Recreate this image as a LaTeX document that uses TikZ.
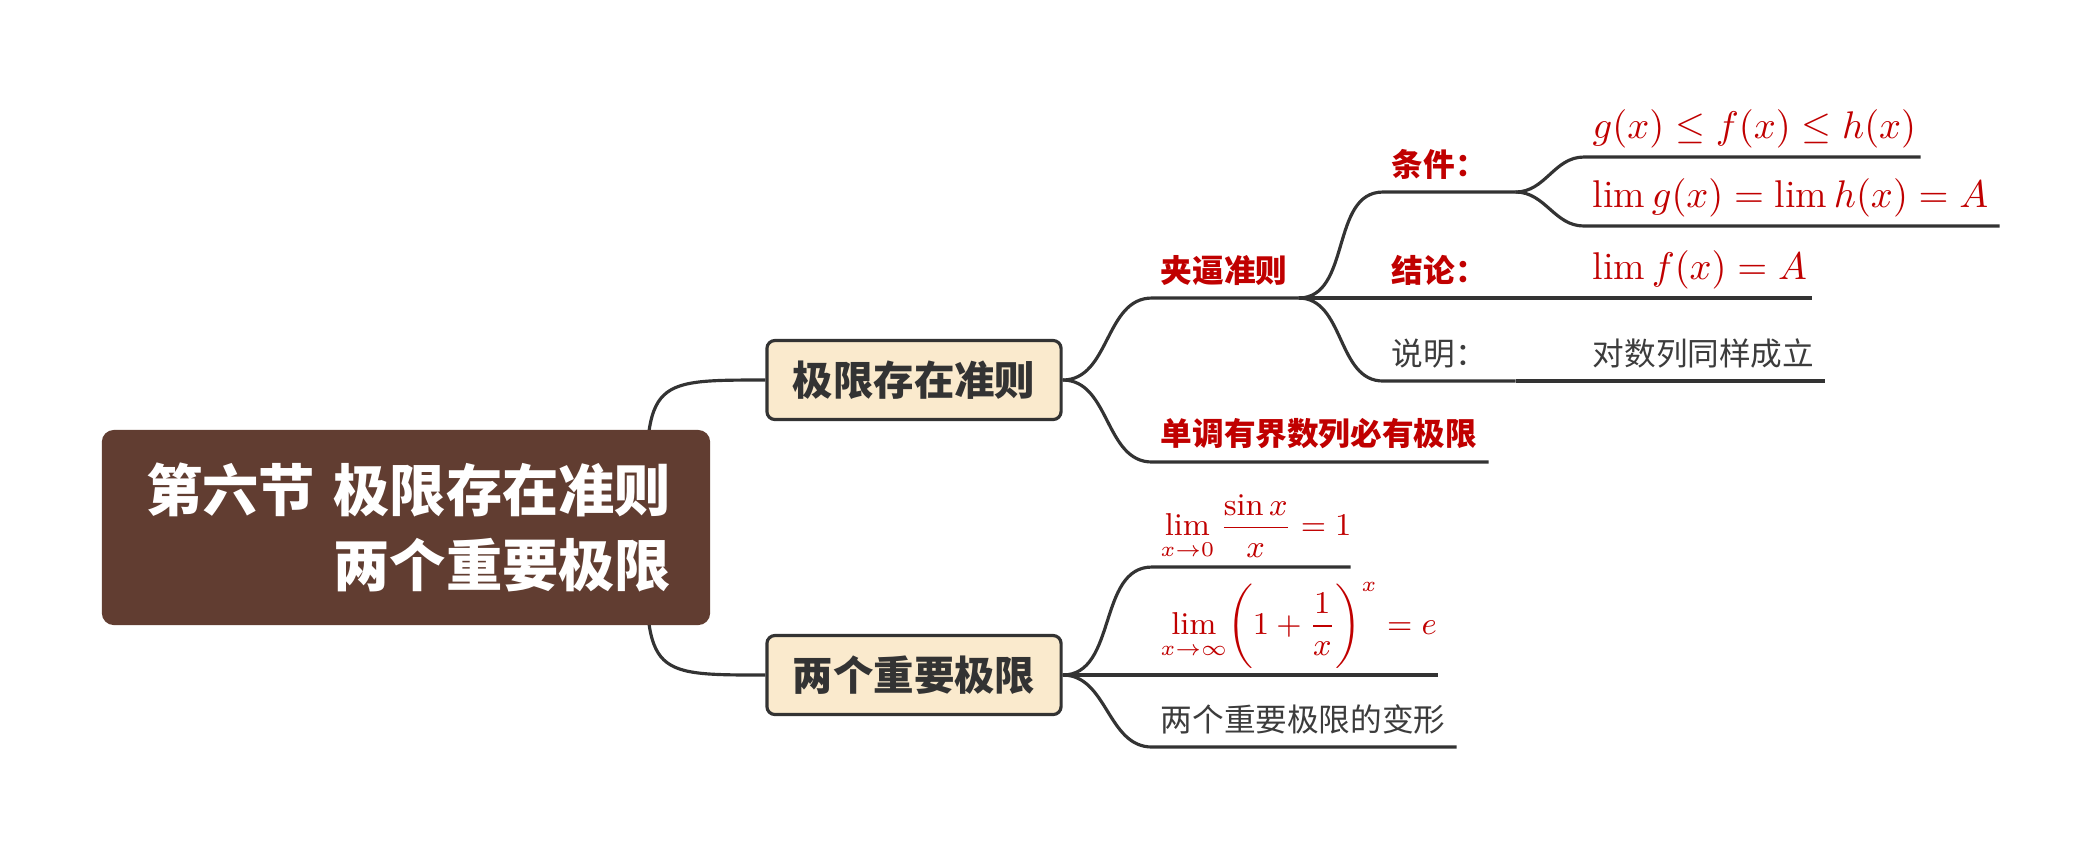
\documentclass[tikz,border=0pt]{standalone}
\usepackage{fontspec}
\newfontfamily\cjk{Noto Sans CJK SC}
\usetikzlibrary{backgrounds}
\definecolor{rootbrown}{RGB}{97,61,49}
\definecolor{topicfill}{RGB}{250,234,205}
\definecolor{linegray}{RGB}{51,51,51}
\definecolor{keyred}{RGB}{192,0,0}
\definecolor{notegray}{RGB}{60,60,60}

\begin{document}
\begin{tikzpicture}[
  x=0.01cm, y=-0.01cm,
  root/.style={rectangle, rounded corners=0.12cm, fill=rootbrown, text=white,
               text width=5.3cm, align=right, inner xsep=0.39cm, inner ysep=0pt,
               minimum height=1.95cm, font=\cjk\bfseries\fontsize{16}{21.3}\selectfont},
  topic/.style={rectangle, rounded corners=0.08cm, draw=linegray, line width=0.9pt,
                fill=topicfill, minimum width=2.94cm, minimum height=0.79cm,
                inner sep=0pt, text=linegray, font=\cjk\bfseries\fontsize{11.5}{13}\selectfont},
  lbl/.style={anchor=south west, align=left, inner xsep=0.08cm, inner ysep=0.12cm},
  key/.style={lbl, text=keyred, font=\cjk\bfseries\fontsize{9}{11}\selectfont},
  note/.style={lbl, text=notegray, font=\cjk\fontsize{9}{11}\selectfont},
  formula/.style={lbl, inner ysep=0.08cm, text=keyred, font=\fontsize{11}{13}\selectfont},
  bigformula/.style={lbl, inner ysep=0.06cm, text=keyred, font=\fontsize{9}{11}\selectfont},
  link/.style={draw=linegray, line width=0.9pt},
  sway/.style={out=0, in=180}]
\useasboundingbox (0,0) rectangle (2100,850);
% central topic
\node[root] (root) at (406,527.5) {第六节 极限存在准则\\两个重要极限};
\coordinate (rootjoint) at ([xshift=-0.65cm]root.east);
% main branches
\node[topic] (t1) at (914,380) {极限存在准则};
\node[topic] (t2) at (914,675) {两个重要极限};
% --- squeeze rule ---
\node[key, text width=1.29cm] (jb) at (1152,298) {夹逼准则};
\node[key, text width=1.15cm] (tj) at (1383,192) {条件：};
\node[key, text width=1.15cm] (jl) at (1383,298) {结论：};
\node[note, text width=1.15cm] (sm) at (1383,381) {说明：};
\node[formula, text width=3.19cm] (tj1) at (1584,157) {\mbox{$g(x)\leq f(x)\leq h(x)$}};
\node[formula, text width=3.98cm] (tj2) at (1584,226) {\mbox{$\lim g(x)=\lim h(x)=A$}};
\node[formula, text width=2.10cm] (jl1) at (1584,298) {\mbox{$\lim f(x)=A$}};
\node[note, text width=2.23cm] (sm1) at (1584,381) {对数列同样成立};
\node[key, text width=3.19cm] (dd) at (1152,462) {单调有界数列必有极限};
% --- two limits ---
\node[bigformula, text width=1.81cm] (lm1) at (1152,567) {\mbox{$\displaystyle\lim_{x\to0}\frac{\sin x}{x}=1$}};
\node[bigformula, text width=2.68cm] (lm2) at (1152,675) {\mbox{$\displaystyle\lim_{x\to\infty}\biggl(1+\frac{1}{x}\biggr)^{x}=e$}};
\node[note, text width=2.87cm] (bx) at (1152,747) {两个重要极限的变形};
% connectors
\begin{scope}[on background layer]
\draw[link] (rootjoint) .. controls (rootjoint |- t1.west) .. (t1.west);
\draw[link] (rootjoint) .. controls (rootjoint |- t2.west) .. (t2.west);
\draw[link] (t1.east) to[sway] (jb.south west) -- (jb.south east);
\draw[link] (t1.east) to[sway] (dd.south west) -- (dd.south east);
\draw[link] (jb.south east) to[sway] (tj.south west) -- (tj.south east);
\draw[link] (jb.south east) -- (jl.south west) -- (jl.south east);
\draw[link] (jb.south east) to[sway] (sm.south west) -- (sm.south east);
\draw[link] (tj.south east) to[sway] (tj1.south west) -- (tj1.south east);
\draw[link] (tj.south east) to[sway] (tj2.south west) -- (tj2.south east);
\draw[link] (jl.south east) -- (jl1.south west) -- (jl1.south east);
\draw[link] (sm.south east) -- (sm1.south west) -- (sm1.south east);
\draw[link] (t2.east) to[sway] (lm1.south west) -- (lm1.south east);
\draw[link] (t2.east) -- (lm2.south west) -- (lm2.south east);
\draw[link] (t2.east) to[sway] (bx.south west) -- (bx.south east);
\end{scope}
\end{tikzpicture}
\end{document}
